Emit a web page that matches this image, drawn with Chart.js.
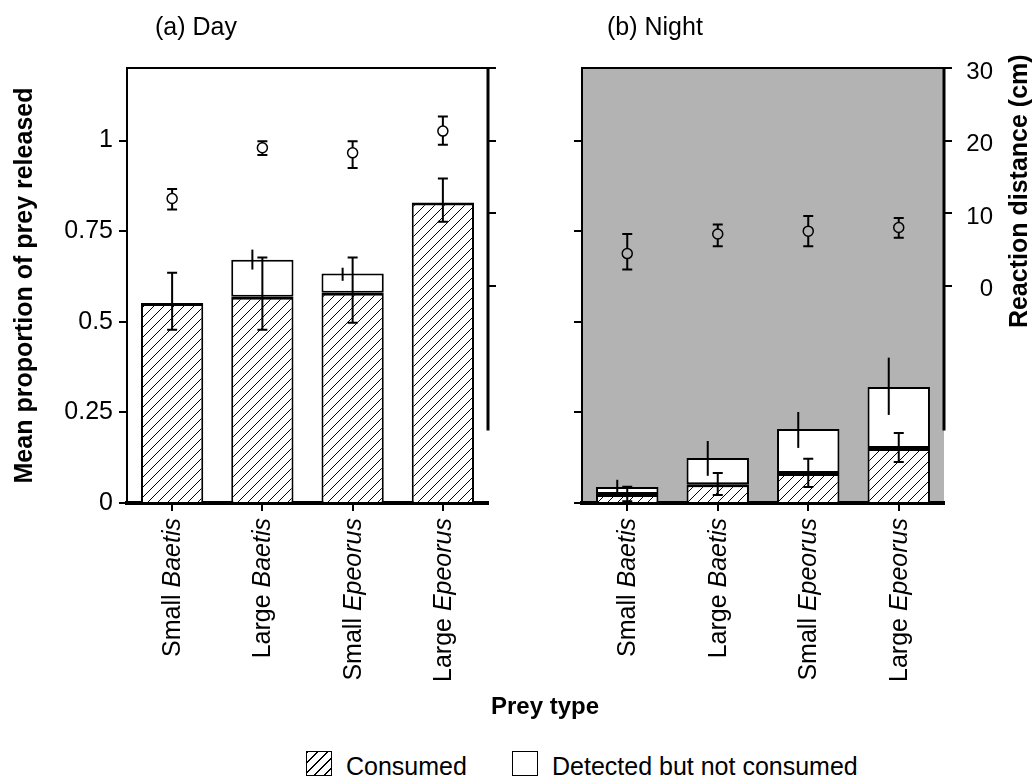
<!DOCTYPE html>
<html>
<head>
<meta charset="utf-8">
<title>Prey released by day and night</title>
<script src="https://cdn.jsdelivr.net/npm/chart.js@4"></script>
<style>
  body { margin: 0; background: #fff; }
  #fig { position: relative; width: 1034px; height: 779px; font-family: 'Liberation Sans', Arial, sans-serif; color: #000; }
  #fig canvas { position: absolute; top: 0; }
  .txt { position: absolute; line-height: 1; white-space: nowrap; }
  .swatch { position: absolute; width: 26px; height: 25px; box-sizing: border-box; border: 1.5px solid #000; background: #fff; }
  .hatch { background: repeating-linear-gradient(135deg, #000 0, #000 1px, #fff 1px, #fff 7px); }
</style>
</head>
<body>
<div id="fig">
  <canvas id="dayChart" width="530" height="700" style="left:0"></canvas>
  <canvas id="nightChart" width="504" height="700" style="left:530px"></canvas>
  <div class="txt" style="left:395px;top:694px;width:300px;text-align:center;font-size:24px;font-weight:bold">Prey type</div>
  <span class="swatch hatch" style="left:306px;top:751px"></span>
  <div class="txt" style="left:346px;top:754px;font-size:25px">Consumed</div>
  <span class="swatch" style="left:512px;top:751px"></span>
  <div class="txt" style="left:552px;top:754px;font-size:25px">Detected but not consumed</div>
</div>
<script>
// Prey types (size + genus, genus set in italics)
const sizeLabels = ['Small', 'Large', 'Small', 'Large'];
const genusLabels = ['Baetis', 'Baetis', 'Epeorus', 'Epeorus'];

// (a) Day - proportions of prey released
const dayConsumed   = [0.552, 0.569, 0.580, 0.829];
const dayTotal      = [0.552, 0.671, 0.633, 0.829];
const dayConsumedLo = [0.478, 0.478, 0.497, 0.776];
const dayConsumedHi = [0.635, 0.677, 0.677, 0.895];
const dayTotalLo    = [null, 0.644, 0.613, null];
const dayTotalHi    = [null, 0.699, 0.649, null];
// (a) Day - reaction distance (cm)
const dayReaction   = [12.0, 19.0, 18.3, 21.3];
const dayReactionLo = [10.5, 18.0, 16.2, 19.4];
const dayReactionHi = [13.3, 19.9, 19.9, 23.3];

// (b) Night - proportions of prey released
const nightConsumed   = [0.025, 0.052, 0.083, 0.152];
const nightTotal      = [0.044, 0.124, 0.204, 0.320];
const nightConsumedLo = [0.005, 0.022, 0.044, 0.113];
const nightConsumedHi = [0.045, 0.083, 0.122, 0.193];
const nightTotalLo    = [0.028, 0.075, 0.152, 0.243];
const nightTotalHi    = [0.064, 0.171, 0.251, 0.401];
// (b) Night - reaction distance (cm)
const nightReaction   = [4.4, 7.1, 7.5, 8.0];
const nightReactionLo = [2.2, 5.4, 5.4, 6.6];
const nightReactionHi = [7.1, 8.4, 9.6, 9.3];

// Axis ticks
const propMax = 1.2;
const propStep = 0.25;
const reachMin = -30;
const reachMax = 30;
const reachStep = 10;
const reachLineBottom = -20; // right axis line stops here

const FONT = "'Liberation Sans', Arial, sans-serif";
const NIGHT_GREY = '#b3b3b3';

// Hatch fill for the consumed part
function makeHatch() {
    const c = document.createElement('canvas');
    c.width = 10;
    c.height = 10;
    const g = c.getContext('2d');
    g.fillStyle = '#fff';
    g.fillRect(0, 0, 10, 10);
    g.strokeStyle = '#000';
    g.lineWidth = 1;
    g.beginPath();
    g.moveTo(0, 10); g.lineTo(10, 0);
    g.moveTo(-1, 1); g.lineTo(1, -1);
    g.moveTo(9, 11); g.lineTo(11, 9);
    g.stroke();
    return g.createPattern(c, 'repeat');
}
const hatch = makeHatch();

function vLine(ctx, x, y1, y2, cap) {
    ctx.beginPath();
    ctx.moveTo(x, y1);
    ctx.lineTo(x, y2);
    if (cap) {
        ctx.moveTo(x - cap, y1); ctx.lineTo(x + cap, y1);
        ctx.moveTo(x - cap, y2); ctx.lineTo(x + cap, y2);
    }
    ctx.stroke();
}

// Error bars: drawn after both bar datasets, just before the circles
function errorBarPlugin(p) {
    return {
        id: 'errorBars',
        beforeDatasetDraw(chart, args) {
            if (args.index !== 2) return;
            const { ctx, scales } = chart;
            const x = scales.x, y = scales.y, y2 = scales.y2;
            ctx.save();
            ctx.strokeStyle = '#000';
            ctx.lineWidth = 2;
            p.consumedLo.forEach((lo, i) => {
                vLine(ctx, x.getPixelForValue(i), y.getPixelForValue(lo), y.getPixelForValue(p.consumedHi[i]), 5);
            });
            p.totalLo.forEach((lo, i) => {
                if (lo === null) return;
                vLine(ctx, x.getPixelForValue(i) - 10, y.getPixelForValue(lo), y.getPixelForValue(p.totalHi[i]), 0);
            });
            p.reactionLo.forEach((lo, i) => {
                vLine(ctx, x.getPixelForValue(i), y2.getPixelForValue(lo), y2.getPixelForValue(p.reactionHi[i]), 5);
            });
            ctx.restore();
        }
    };
}

// Panel background, frame, title and category labels
function panelPlugin(p) {
    return {
        id: 'panel',
        beforeDraw(chart) {
            if (!p.bg) return;
            const a = chart.chartArea;
            chart.ctx.save();
            chart.ctx.fillStyle = p.bg;
            chart.ctx.fillRect(a.left, a.top, a.right - a.left, a.bottom - a.top);
            chart.ctx.restore();
        },
        afterDraw(chart) {
            const { ctx, chartArea: a, scales } = chart;
            ctx.save();
            ctx.strokeStyle = '#000';
            // top edge
            ctx.lineWidth = 2;
            ctx.beginPath();
            ctx.moveTo(a.left, a.top);
            ctx.lineTo(a.right, a.top);
            ctx.stroke();
            // right axis line (partial)
            ctx.lineWidth = 3;
            ctx.beginPath();
            ctx.moveTo(a.right, a.top - 1);
            ctx.lineTo(a.right, scales.y2.getPixelForValue(reachLineBottom));
            ctx.stroke();

            ctx.fillStyle = '#000';
            // panel title
            ctx.font = '25px ' + FONT;
            ctx.textAlign = 'left';
            ctx.textBaseline = 'alphabetic';
            ctx.fillText(p.title, a.left + p.titleDx, 35);

            // rotated category labels
            genusLabels.forEach((genus, i) => {
                ctx.save();
                ctx.translate(scales.x.getPixelForValue(i) + 1, a.bottom + 15);
                ctx.rotate(-Math.PI / 2);
                ctx.textAlign = 'right';
                ctx.textBaseline = 'middle';
                ctx.font = 'italic 25px ' + FONT;
                ctx.fillText(genus, 0, 0);
                const w = ctx.measureText(genus).width;
                ctx.font = '25px ' + FONT;
                ctx.fillText(sizeLabels[i] + ' ', -w, 0);
                ctx.restore();
            });

            // right axis title
            if (p.rightTitle) {
                ctx.save();
                ctx.translate(a.right + 76, scales.y2.getPixelForValue(13));
                ctx.rotate(-Math.PI / 2);
                ctx.textAlign = 'center';
                ctx.textBaseline = 'middle';
                ctx.font = 'bold 25px ' + FONT;
                ctx.fillText(p.rightTitle, 0, 0);
                ctx.restore();
            }
            ctx.restore();
        }
    };
}

function buildPanel(canvasId, p) {
    const canvas = document.getElementById(canvasId);
    const H = canvas.height;

    return new Chart(canvas, {
        type: 'bar',
        data: {
            labels: genusLabels.map((g, i) => sizeLabels[i] + ' ' + g),
            datasets: [
                {
                    label: 'Consumed',
                    data: p.consumed,
                    backgroundColor: hatch,
                    borderColor: '#000',
                    borderWidth: { top: 3, left: 2, right: 2, bottom: 0 },
                    borderSkipped: false,
                    stack: 's',
                    order: 2,
                    barPercentage: 0.69,
                    categoryPercentage: 1
                },
                {
                    label: 'Detected but not consumed',
                    data: p.total.map((t, i) => t - p.consumed[i]),
                    backgroundColor: '#fff',
                    borderColor: '#000',
                    borderWidth: 2,
                    borderSkipped: false,
                    stack: 's',
                    order: 2,
                    barPercentage: 0.69,
                    categoryPercentage: 1
                },
                {
                    type: 'line',
                    label: 'Reaction distance (cm)',
                    data: p.reaction,
                    yAxisID: 'y2',
                    showLine: false,
                    pointRadius: 5,
                    pointBorderWidth: 1.5,
                    pointBorderColor: '#000',
                    pointBackgroundColor: p.bg || '#fff',
                    order: 1
                }
            ]
        },
        options: {
            responsive: false,
            animation: false,
            layout: { padding: { top: p.top, left: 0, right: p.padRight, bottom: 0 } },
            plugins: {
                legend: { display: false },
                tooltip: { enabled: false }
            },
            scales: {
                x: {
                    stacked: true,
                    offset: true,
                    ticks: { display: false },
                    grid: { offset: false, drawOnChartArea: false, color: '#000', lineWidth: 2, tickLength: 8 },
                    border: { color: '#000', width: 4 },
                    afterFit: s => { s.height = H - p.bottom; }
                },
                y: {
                    stacked: true,
                    position: 'left',
                    min: 0,
                    max: propMax,
                    ticks: {
                        stepSize: propStep,
                        includeBounds: false,
                        display: p.leftLabels,
                        color: '#000',
                        font: { size: 25, family: FONT },
                        padding: 6,
                        callback: v => String(v)
                    },
                    grid: { drawOnChartArea: false, color: '#000', lineWidth: 2, tickLength: 8 },
                    border: { color: '#000', width: 2 },
                    title: {
                        display: p.leftLabels,
                        text: 'Mean proportion of prey released',
                        color: '#000',
                        font: { size: 25, weight: 'bold', family: FONT },
                        padding: { top: 10 }
                    },
                    afterFit: s => { s.width = p.left; }
                },
                y2: {
                    position: 'right',
                    min: reachMin,
                    max: reachMax,
                    ticks: {
                        stepSize: reachStep,
                        display: p.rightLabels,
                        crossAlign: 'far',
                        color: '#000',
                        font: { size: 24, family: FONT },
                        labelOffset: 4
                    },
                    afterBuildTicks: s => { s.ticks = s.ticks.filter(t => t.value >= 0); },
                    grid: { drawOnChartArea: false, color: '#000', lineWidth: 2, tickLength: 8 },
                    border: { display: false },
                    afterFit: s => { s.width = p.rightAxis; }
                }
            }
        },
        plugins: [panelPlugin(p), errorBarPlugin(p)]
    });
}

buildPanel('dayChart', {
    title: '(a) Day', titleDx: 28,
    top: 68, bottom: 503, left: 127, rightAxis: 42, padRight: 0,
    leftLabels: true, rightLabels: false,
    consumed: dayConsumed, total: dayTotal,
    consumedLo: dayConsumedLo, consumedHi: dayConsumedHi,
    totalLo: dayTotalLo, totalHi: dayTotalHi,
    reaction: dayReaction, reactionLo: dayReactionLo, reactionHi: dayReactionHi
});

buildPanel('nightChart', {
    title: '(b) Night', titleDx: 25,
    top: 68, bottom: 503, left: 52, rightAxis: 49, padRight: 41,
    leftLabels: false, rightLabels: true,
    rightTitle: 'Reaction distance (cm)',
    bg: NIGHT_GREY,
    consumed: nightConsumed, total: nightTotal,
    consumedLo: nightConsumedLo, consumedHi: nightConsumedHi,
    totalLo: nightTotalLo, totalHi: nightTotalHi,
    reaction: nightReaction, reactionLo: nightReactionLo, reactionHi: nightReactionHi
});
</script>
</body>
</html>
